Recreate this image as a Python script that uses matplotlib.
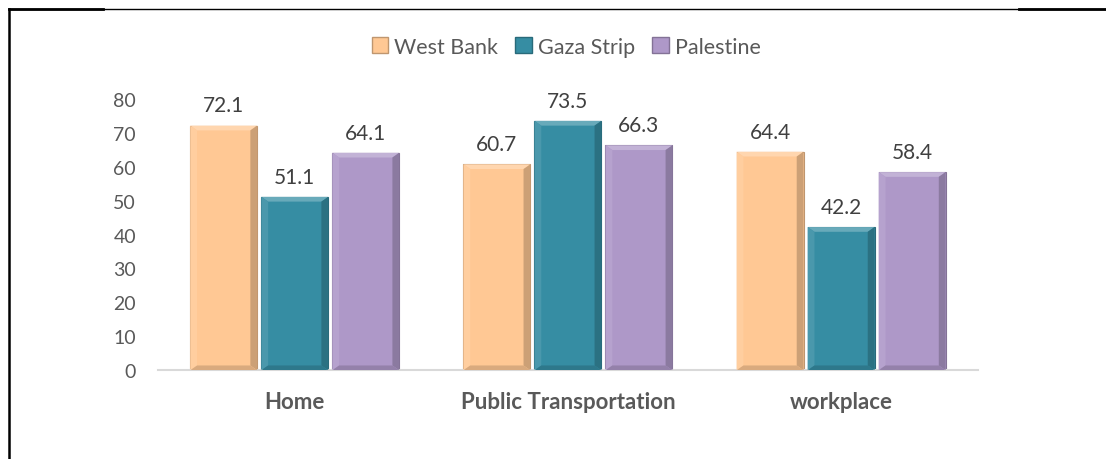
import numpy as np
import matplotlib.pyplot as plt
from matplotlib.patches import Polygon
from matplotlib.lines import Line2D
import matplotlib.colors as mcolors

categories = ['Home', 'Public Transportation', 'workplace']
series_names = ['West Bank', 'Gaza Strip', 'Palestine']
west_bank = [72.1, 60.7, 64.4]
gaza_strip = [51.1, 73.5, 42.2]
palestine = [64.1, 66.3, 58.4]
y_ticks = [0, 10, 20, 30, 40, 50, 60, 70, 80]

colors = ['#FFC894', '#368DA3', '#AE98C8']
plt.rcParams['font.family'] = ['Lato', 'DejaVu Sans']

fig = plt.figure(figsize=(11.06, 4.6), dpi=100)
ax = fig.add_axes([0.143, 0.193, 0.741, 0.590])

x = np.arange(len(categories))
width = 0.245
step = 0.26


def shade(c, f):
    r, g, b = mcolors.to_rgb(c)
    if f > 1:
        return (r + (1 - r) * (f - 1), g + (1 - g) * (f - 1), b + (1 - b) * (f - 1))
    return (r * f, g * f, b * f)


for i, (vals, col) in enumerate(zip([west_bank, gaza_strip, palestine], colors)):
    xs = x + (i - 1) * step
    bars = ax.bar(xs, vals, width, color=col, edgecolor=shade(col, 0.75), linewidth=0.8, zorder=2)
    for b, v in zip(bars, vals):
        x0, x1 = b.get_x(), b.get_x() + b.get_width()
        bev = 0.025
        bh = 1.4
        # top bevel highlight
        ax.add_patch(Polygon([(x0, v), (x1, v), (x1 - bev, v - bh), (x0 + bev, v - bh)],
                             closed=True, facecolor=shade(col, 1.25), edgecolor='none', zorder=3))
        # right bevel dark
        ax.add_patch(Polygon([(x1, v), (x1, 0), (x1 - bev, bh), (x1 - bev, v - bh)],
                             closed=True, facecolor=shade(col, 0.8), edgecolor='none', zorder=3))
        # left bevel light
        ax.add_patch(Polygon([(x0, v), (x0, 0), (x0 + bev, bh), (x0 + bev, v - bh)],
                             closed=True, facecolor=shade(col, 1.1), edgecolor='none', zorder=3))
        # bottom bevel
        ax.add_patch(Polygon([(x0, 0), (x1, 0), (x1 - bev, bh), (x0 + bev, bh)],
                             closed=True, facecolor=shade(col, 0.85), edgecolor='none', zorder=3))
        ax.text(b.get_x() + b.get_width() / 2, v + 3.0, f'{v:.1f}', ha='center', va='bottom',
                fontsize=15, color='#404040', clip_on=False)

ax.set_xlim(-0.5, 2.5)
ax.set_ylim(0, 80)
ax.set_yticks(y_ticks)
ax.set_xticks(x)
ax.set_xticklabels(categories, fontsize=16, fontweight='bold', color='#595959')
ax.tick_params(axis='y', length=0, pad=16, labelsize=14, labelcolor='#595959')
ax.tick_params(axis='x', length=0, pad=15)
for s in ['top', 'right', 'left']:
    ax.spines[s].set_visible(False)
ax.spines['bottom'].set_color('#D9D9D9')
ax.spines['bottom'].set_linewidth(1.5)

handles = [plt.Rectangle((0, 0), 1, 1, facecolor=c, edgecolor=shade(c, 0.75)) for c in colors]
fig.legend(handles, series_names, loc='center', bbox_to_anchor=(0.512, 0.896), ncol=3,
           frameon=False, fontsize=15.5, handlelength=0.75, handleheight=0.75,
           handletextpad=0.3, columnspacing=0.8, labelcolor='#595959')

# page border
W, H = 1106, 460
fig.add_artist(Line2D([9 / W, 1.0], [1 - 9.5 / H, 1 - 9.5 / H], color='black', lw=1, transform=fig.transFigure))
fig.add_artist(Line2D([9 / W, 103 / W], [1 - 9.5 / H, 1 - 9.5 / H], color='black', lw=2, transform=fig.transFigure))
fig.add_artist(Line2D([1019 / W, 1.0], [1 - 9.5 / H, 1 - 9.5 / H], color='black', lw=2, transform=fig.transFigure))
fig.add_artist(Line2D([9 / W, 9 / W], [0, 1 - 9.5 / H], color='black', lw=1.8, transform=fig.transFigure))

fig.savefig('out.png', dpi=100)
